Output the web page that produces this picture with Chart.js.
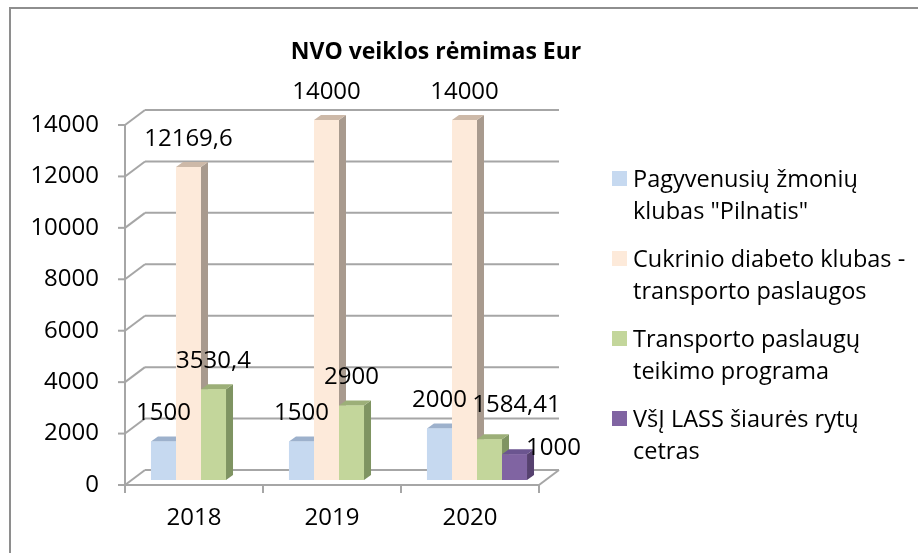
<!DOCTYPE html>
<html>
<head>
<meta charset="utf-8">
<script src="https://cdn.jsdelivr.net/npm/chart.js@4.4.1/dist/chart.umd.min.js"></script>
<style>
  body { margin: 0; background: #fff; }
  #wrap { position: relative; width: 918px; height: 553px; overflow: hidden; font-family: "Open Sans", sans-serif; color: #000; }
  #frame { position: absolute; left: 9px; top: 7px; width: 1000px; height: 1000px; border-top: 2px solid #8e8e8e; border-left: 2px solid #8e8e8e; }
  #title { position: absolute; left: 236px; width: 400px; top: 30px; text-align: center; font-weight: bold; font-size: 23px; line-height: 40px; }
  #legend { position: absolute; left: 612px; top: 162px; }
  .item { display: flex; align-items: flex-start; margin-bottom: 16px; }
  .sw { width: 15px; height: 15px; margin-top: 8.5px; margin-right: 6px; flex: none; }
  .txt { font-size: 23.5px; line-height: 32px; white-space: nowrap; }
  canvas { position: absolute; left: 0; top: 0; }
</style>
</head>
<body>
<div id="wrap">
  <div id="frame"></div>
  <canvas id="c" width="918" height="553"></canvas>
  <div id="title">NVO veiklos rėmimas Eur</div>
  <div id="legend"></div>
</div>
<script>
/* NVO veiklos rėmimas – 3D stulpelių imitacija */
const years = ["2018", "2019", "2020"];
const seriesNames = [
  'Pagyvenusių žmonių\nklubas "Pilnatis"',
  "Cukrinio diabeto klubas -\ntransporto paslaugos",
  "Transporto paslaugų\nteikimo programa",
  "VšĮ LASS šiaurės rytų\ncetras",
];
const pilnatis = [1500, 1500, 2000];
const diabetas = [12169.6, 14000, 14000];
const transportas = [3530.4, 2900, 1584.41];
const lass = [null, null, 1000];
const yMin = 0, yMax = 14000, yStep = 2000;

const frontColors = ["#c6d9f0", "#fdeada", "#c3d69b", "#8064a2"];
const sideColors = ["#8ea3bf", "#a89a8e", "#7f9462", "#56416f"];
const topColors = ["#9db1cc", "#cdb9a8", "#9caf78", "#6b5590"];

// wall depth and bar depth offsets (px)
const WALL = { dx: 20, dy: -15 };
const SHIFT = { dx: 7, dy: -5 };
const BAR = { dx: 7, dy: -5 };
const labelNudge = { "2-2": [27, -6], "3-2": [39, 22] };
const numFont = { family: "Open Sans", size: 24 };

function line(ctx, x1, y1, x2, y2) {
  ctx.beginPath();
  ctx.moveTo(x1, y1);
  ctx.lineTo(x2, y2);
  ctx.stroke();
}
function poly(ctx, pts) {
  ctx.beginPath();
  ctx.moveTo(pts[0], pts[1]);
  for (let i = 2; i < pts.length; i += 2) ctx.lineTo(pts[i], pts[i + 1]);
  ctx.closePath();
  ctx.fill();
}
const fmt = (v) => String(v).replace(".", ",");

const box3d = {
  id: "box3d",
  beforeDatasetsDraw(chart) {
    const { ctx, chartArea: a, scales } = chart;
    const y = scales.y;
    ctx.save();
    ctx.strokeStyle = "#a6a6a6";
    ctx.lineWidth = 2;
    y.ticks.forEach((t) => {
      const py = y.getPixelForValue(t.value);
      line(ctx, a.left, py, a.left + WALL.dx, py + WALL.dy);
      line(ctx, a.left + WALL.dx, py + WALL.dy, a.right + WALL.dx, py + WALL.dy);
      line(ctx, a.left - 7, py, a.left, py);
    });
    line(ctx, a.left, a.top, a.left, a.bottom);
    line(ctx, a.left, a.bottom, a.right, a.bottom);
    line(ctx, a.right, a.bottom, a.right + WALL.dx, a.bottom + WALL.dy);
    const n = years.length;
    for (let i = 0; i <= n; i++) {
      const bx = a.left + (i * (a.right - a.left)) / n;
      line(ctx, bx, a.bottom, bx, a.bottom + 8);
    }
    ctx.restore();
    ctx.save();
    ctx.translate(SHIFT.dx, SHIFT.dy);
  },
  afterDatasetsDraw(chart) {
    const ctx = chart.ctx;
    chart.data.datasets.forEach((ds, i) => {
      chart.getDatasetMeta(i).data.forEach((bar, j) => {
        if (ds.data[j] == null) return;
        const { x, y, base, width } = bar.getProps(["x", "y", "base", "width"], true);
        const l = x - width / 2, r = x + width / 2;
        ctx.fillStyle = sideColors[i];
        poly(ctx, [r, y, r + BAR.dx, y + BAR.dy, r + BAR.dx, base + BAR.dy, r, base]);
        ctx.fillStyle = topColors[i];
        poly(ctx, [l, y, l + BAR.dx, y + BAR.dy, r + BAR.dx, y + BAR.dy, r, y]);
        bar.draw(ctx);
      });
    });
    ctx.fillStyle = "#000";
    ctx.font = numFont.size + 'px "' + numFont.family + '"';
    ctx.textAlign = "center";
    ctx.textBaseline = "middle";
    chart.data.datasets.forEach((ds, i) => {
      chart.getDatasetMeta(i).data.forEach((bar, j) => {
        if (ds.data[j] == null) return;
        const nudge = labelNudge[i + "-" + j] || [0, 0];
        ctx.fillText(fmt(ds.data[j]), bar.x + nudge[0], bar.y - 28 + nudge[1]);
      });
    });
    ctx.restore();
  },
};

const series = [pilnatis, diabetas, transportas, lass];
new Chart(document.getElementById("c"), {
  type: "bar",
  data: {
    labels: years,
    datasets: series.map((d, i) => ({
      label: seriesNames[i],
      data: d,
      backgroundColor: frontColors[i],
      borderWidth: 0,
      categoryPercentage: 0.725,
      barPercentage: 1,
      clip: false,
    })),
  },
  options: {
    responsive: false,
    animation: false,
    layout: { padding: { top: 125, right: 379, bottom: 0, left: 0 } },
    plugins: { legend: { display: false }, title: { display: false }, tooltip: { enabled: false } },
    scales: {
      x: {
        grid: { display: false, drawTicks: false },
        border: { display: false },
        ticks: { color: "#000", font: numFont, padding: 19 },
        afterFit: (s) => { s.height = 68; },
      },
      y: {
        min: yMin,
        max: yMax,
        grid: { display: false, drawTicks: false },
        border: { display: false },
        ticks: { stepSize: yStep, color: "#000", font: numFont, padding: 26, callback: (v) => String(v) },
        afterFit: (s) => { s.width = 125; },
      },
    },
  },
  plugins: [box3d],
});

const legend = document.getElementById("legend");
seriesNames.forEach((name, i) => {
  const item = document.createElement("div");
  item.className = "item";
  const sw = document.createElement("div");
  sw.className = "sw";
  sw.style.background = frontColors[i];
  const txt = document.createElement("div");
  txt.className = "txt";
  name.split("\n").forEach((ln, k) => {
    if (k) txt.appendChild(document.createElement("br"));
    txt.appendChild(document.createTextNode(ln));
  });
  item.appendChild(sw);
  item.appendChild(txt);
  legend.appendChild(item);
});
</script>
</body>
</html>
